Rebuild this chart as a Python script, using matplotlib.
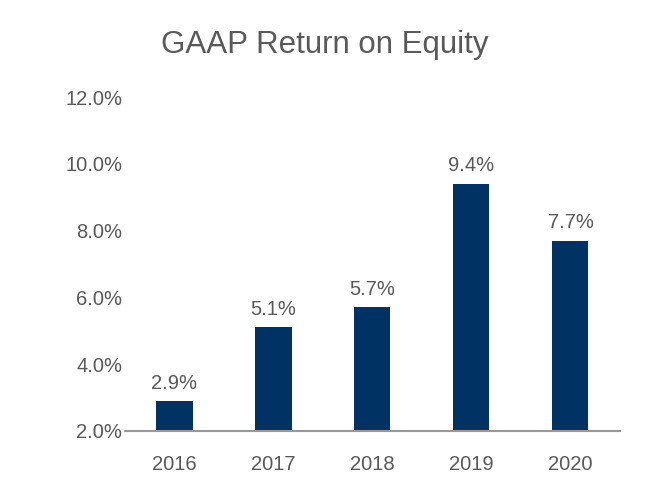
import matplotlib.pyplot as plt
from matplotlib.ticker import FuncFormatter

years = ['2016', '2017', '2018', '2019', '2020']
roe = [2.9, 5.1, 5.7, 9.4, 7.7]
yticks = [2, 4, 6, 8, 10, 12]

plt.rcParams['font.family'] = ['Liberation Sans', 'DejaVu Sans']
grey = '#595959'

fig = plt.figure(figsize=(6.5, 5), dpi=100)
ax = fig.add_axes([0.1923, 0.138, 0.7615, 0.668])

x = range(len(years))
ax.bar(x, [v - 2 for v in roe], bottom=2, width=0.364, color='#003263')
for i, v in zip(x, roe):
    ax.text(i, v + 0.25, '%.1f%%' % v, ha='center', va='bottom', fontsize=14.5, color=grey)

ax.set_xlim(-0.5, 4.5)
ax.set_ylim(2, 12)
ax.set_xticks(list(x))
ax.set_xticklabels(years)
ax.set_yticks(yticks)
ax.yaxis.set_major_formatter(FuncFormatter(lambda v, p: '%.1f%%' % v))
ax.tick_params(axis='both', length=0, labelsize=14.5, colors=grey)
ax.tick_params(axis='x', pad=17)
ax.tick_params(axis='y', pad=2)
for s in ['top', 'right', 'left']:
    ax.spines[s].set_visible(False)
ax.spines['bottom'].set_color('#999999')
ax.spines['bottom'].set_linewidth(1.5)

fig.text(0.5, 0.91, 'GAAP Return on Equity', ha='center', va='center', fontsize=22.5, color=grey)

fig.savefig('out.png', dpi=100)
